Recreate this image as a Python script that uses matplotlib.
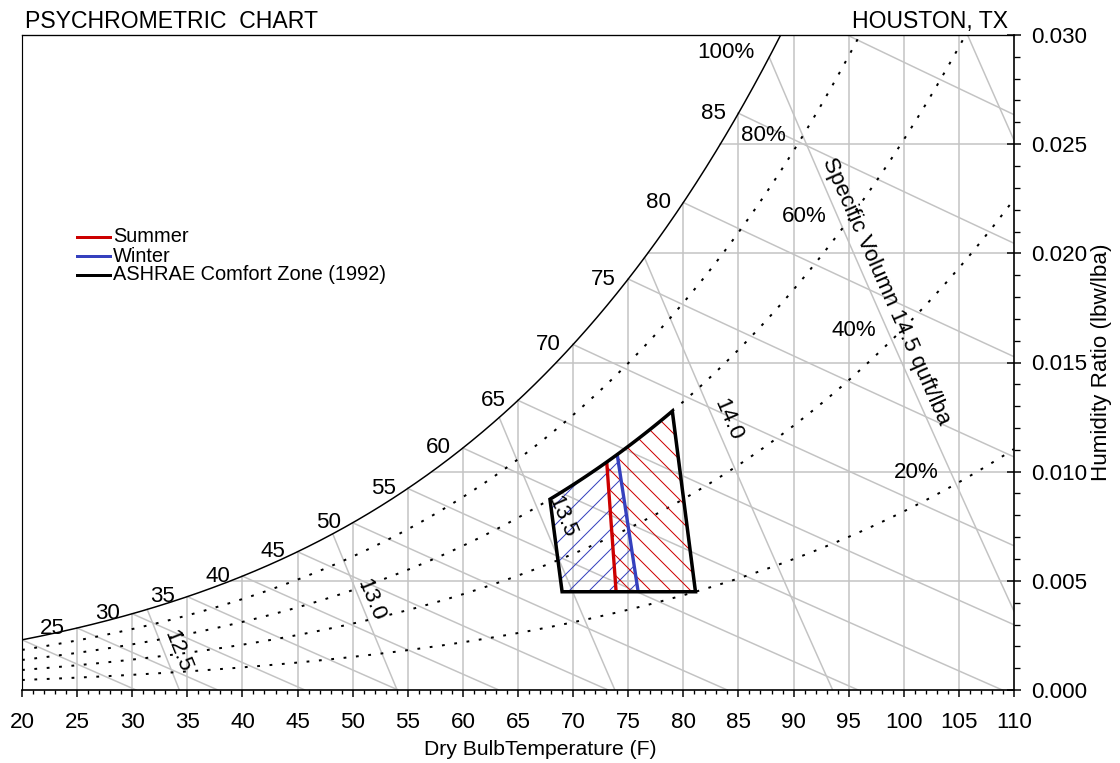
import numpy as np
import matplotlib
matplotlib.use("Agg")
import matplotlib.pyplot as plt
from matplotlib.patches import Polygon
from matplotlib.lines import Line2D
from matplotlib.ticker import MultipleLocator, FormatStrFormatter

plt.rcParams['font.family'] = ['Liberation Sans', 'DejaVu Sans']
plt.rcParams['hatch.linewidth'] = 0.6

# ---------------------------------------------------------------- data
DB_MIN, DB_MAX = 20, 110          # dry bulb, F
W_MIN, W_MAX = 0.0, 0.030         # humidity ratio, lbw/lba
P_ATM = 14.64                     # station pressure, psia

rh_levels = [0.80, 0.60, 0.40, 0.20]
rh_text = ['100%', '80%', '60%', '40%', '20%']
rh_text_db = [83.9, 87.3, 90.95, 95.45, 101.1]
rh_text_w = [0.0292, 0.0254, 0.0217, 0.01647, 0.00996]

wb_levels = [20, 25, 30, 35, 40, 45, 50, 55, 60, 65, 70, 75, 80, 85, 90]
wb_labels = [25, 30, 35, 40, 45, 50, 55, 60, 65, 70, 75, 80, 85]

sv_levels = [12.5, 13.0, 13.5, 14.0, 14.5, 15.0]
sv_text = ['12.5', '13.0', '13.5', '14.0', 'Specific Volumn 14.5 quft/lba']
sv_text_db = [34.1, 51.65, 69.0, 84.05, 98.4]
sv_text_w = [0.00176, 0.00412, 0.00795, 0.01237, 0.01827]

grid_db = [25, 30, 35, 40, 45, 50, 55, 60, 65, 70, 75, 80, 85, 90, 95, 100, 105]
grid_w = [0.005, 0.010, 0.015, 0.020, 0.025]

# ASHRAE comfort zone (1992): humidity floor, RH ceiling, (bottom, top) dry bulb of edges
zone_w_min = 0.0045
zone_rh_max = 0.60
zone_left_db = (69.0, 67.9)
zone_right_db = (81.1, 79.0)
summer_left_db = (73.9, 73.05)
winter_right_db = (75.9, 74.0)

legend_labels = ['Summer', 'Winter', 'ASHRAE Comfort Zone (1992)']

RED = '#CC0000'
BLUE = '#3540BE'
GRID = '#C3C3C3'


# ---------------------------------------------------------- psychrometrics
def p_ws(t_f):
    """Saturation vapour pressure over water (psia), Hyland-Wexler."""
    T = np.asarray(t_f, dtype=float) + 459.67
    return np.exp(-1.0440397e4 / T - 1.1294650e1 - 2.7022355e-2 * T
                  + 1.2890360e-5 * T ** 2 - 2.4780681e-9 * T ** 3
                  + 6.5459673 * np.log(T))


def w_rh(t, rh):
    pw = rh * p_ws(t)
    return 0.621945 * pw / (P_ATM - pw)


def w_wetbulb(t, twb):
    ws = w_rh(twb, 1.0)
    return ((1093 - 0.556 * twb) * ws - 0.240 * (t - twb)) / (1093 + 0.444 * t - twb)


def w_volume(t, v):
    return (v * P_ATM / (0.370486 * (t + 459.67)) - 1.0) / 1.607858


t_fine = np.linspace(DB_MIN, DB_MAX, 1801)
w_sat_fine = w_rh(t_fine, 1.0)

# ------------------------------------------------------------------ figure
DPI = 120
fig = plt.figure(figsize=(1120 / DPI, 763 / DPI), dpi=DPI)
ax = fig.add_axes([22 / 1120, 1 - 690 / 763, 992 / 1120, 655 / 763])
ax.set_xlim(DB_MIN, DB_MAX)
ax.set_ylim(W_MIN, W_MAX)

# grid under the saturation curve
for t in grid_db:
    ax.plot([t, t], [0, min(w_rh(t, 1.0), W_MAX)], color=GRID, lw=0.9, zorder=1)
for w in grid_w:
    ts = np.interp(w, w_sat_fine, t_fine)
    ax.plot([ts, DB_MAX], [w, w], color=GRID, lw=0.9, zorder=1)

# wet bulb lines
for twb in wb_levels:
    ws = w_rh(twb, 1.0)
    t_end = min(twb + (1093 - 0.556 * twb) * ws / 0.240, DB_MAX)
    t = np.linspace(twb, t_end, 100)
    ax.plot(t, w_wetbulb(t, twb), color=GRID, lw=0.9, zorder=1)

# specific volume lines
for v in sv_levels:
    diff = w_volume(t_fine, v) - w_sat_fine
    t_start = np.interp(0.0, -diff, t_fine)
    t_end = min(v * P_ATM / 0.370486 - 459.67, DB_MAX)
    t = np.linspace(t_start, t_end, 100)
    ax.plot(t, w_volume(t, v), color=GRID, lw=0.9, zorder=1)

# relative humidity curves
ax.plot(t_fine, w_sat_fine, color='black', lw=0.9, zorder=3)
for rh in rh_levels:
    ax.plot(t_fine, w_rh(t_fine, rh), color='black', lw=1.2,
            linestyle=(0, (1.4, 4.8)), zorder=3)


# comfort zones
def rh_edge(t_a, t_b, n=40):
    t = np.linspace(t_a, t_b, n)
    return np.column_stack([t, w_rh(t, zone_rh_max)])


winter_xy = np.vstack([[[zone_left_db[0], zone_w_min], [winter_right_db[0], zone_w_min]],
                       rh_edge(winter_right_db[1], zone_left_db[1])])
summer_xy = np.vstack([[[summer_left_db[0], zone_w_min], [zone_right_db[0], zone_w_min]],
                       rh_edge(zone_right_db[1], summer_left_db[1])])
zone_xy = np.vstack([[[zone_left_db[0], zone_w_min], [zone_right_db[0], zone_w_min]],
                     rh_edge(zone_right_db[1], zone_left_db[1])])

ax.add_patch(Polygon(winter_xy, closed=True, facecolor='none', edgecolor=BLUE,
                     hatch='//', lw=0, zorder=4))
ax.add_patch(Polygon(summer_xy, closed=True, facecolor='none', edgecolor=RED,
                     hatch='\\\\', lw=0, zorder=4))

ax.plot([summer_left_db[0], summer_left_db[1]],
        [zone_w_min, w_rh(summer_left_db[1], zone_rh_max)], color=RED, lw=2.0,
        solid_capstyle='butt', zorder=5)
ax.plot([winter_right_db[0], winter_right_db[1]],
        [zone_w_min, w_rh(winter_right_db[1], zone_rh_max)], color=BLUE, lw=2.0,
        solid_capstyle='butt', zorder=5)
ax.add_patch(Polygon(zone_xy, closed=True, facecolor='none', edgecolor='black',
                     lw=2.1, joinstyle='miter', zorder=6))

# ------------------------------------------------------------------ labels
LABEL_FS = 13.4
for tw in wb_labels:
    ax.annotate(str(tw), (tw, w_rh(tw, 1.0)), xytext=(-12, 0),
                textcoords='offset pixels', ha='right', va='center',
                fontsize=LABEL_FS, zorder=7)

for txt, tx, wy in zip(rh_text, rh_text_db, rh_text_w):
    ax.text(tx, wy, txt, ha='center', va='center', fontsize=LABEL_FS, zorder=7)

fig.canvas.draw()
for txt, tx, wy, v in zip(sv_text, sv_text_db, sv_text_w, sv_levels):
    p1 = ax.transData.transform((tx - 0.5, w_volume(tx - 0.5, v)))
    p2 = ax.transData.transform((tx + 0.5, w_volume(tx + 0.5, v)))
    ang = np.degrees(np.arctan2(p2[1] - p1[1], p2[0] - p1[0]))
    ax.text(tx, wy, txt, ha='center', va='center', rotation=ang,
            rotation_mode='anchor', fontsize=LABEL_FS, zorder=7)

# legend
legend_colors = [RED, BLUE, 'black']
for i, (lab, col) in enumerate(zip(legend_labels, legend_colors)):
    y = 1 - (237 + 19 * i) / 763
    fig.add_artist(Line2D([77 / 1120, 110 / 1120], [y, y], color=col, lw=1.8,
                          transform=fig.transFigure))
    fig.text(113 / 1120, y, lab, ha='left', va='center', fontsize=12)

# titles
fig.text(25 / 1120, 1 - 28.3 / 763, 'PSYCHROMETRIC  CHART', ha='left',
         va='baseline', fontsize=13.8)
fig.text(1008 / 1120, 1 - 28.3 / 763, 'HOUSTON, TX', ha='right',
         va='baseline', fontsize=13.8)

# ------------------------------------------------------------------ axes
ax.yaxis.tick_right()
ax.yaxis.set_label_position('right')
ax.xaxis.set_major_locator(MultipleLocator(5))
ax.xaxis.set_minor_locator(MultipleLocator(1))
ax.yaxis.set_major_locator(MultipleLocator(0.005))
ax.yaxis.set_minor_locator(MultipleLocator(0.001))
ax.yaxis.set_major_formatter(FormatStrFormatter('%.3f'))

ax.tick_params(axis='x', which='major', direction='out', length=4.2, width=0.9,
               pad=9.0, labelsize=13.4)
ax.tick_params(axis='x', which='minor', direction='out', length=2.5, width=0.8)
ax.tick_params(axis='y', which='major', direction='inout', length=8.4, width=0.9,
               pad=6.0, labelsize=13.4, left=False, right=True)
ax.tick_params(axis='y', which='minor', direction='out', length=3.6, width=0.8,
               left=False, right=True)

for side, lw in (('left', 0.7), ('top', 0.8), ('bottom', 1.0), ('right', 1.0)):
    ax.spines[side].set_linewidth(lw)
    ax.spines[side].set_zorder(8)

ax.set_xlabel('Dry BulbTemperature (F)', fontsize=12.7)
ax.xaxis.set_label_coords((540 - 22) / 992, (690 - 740) / 655)
ax.set_ylabel('Humidity Ratio (lbw/lba)', fontsize=13.4, rotation=90,
              ha='center', va='center')
ax.yaxis.set_label_coords((1102 - 22) / 992, 0.5)

fig.savefig('out.png', dpi=DPI)
